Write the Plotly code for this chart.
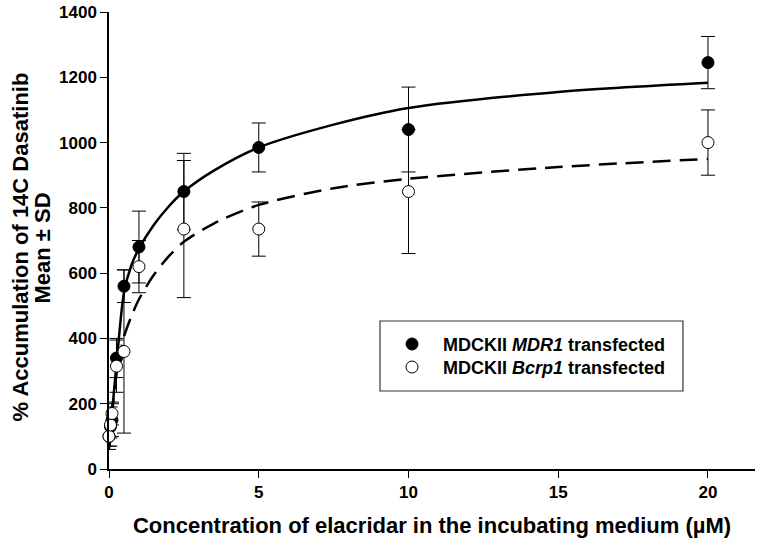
import plotly.graph_objects as go

# Measured data (mean ± SD)
conc = [0, 0.05, 0.1, 0.25, 0.5, 1, 2.5, 5, 10, 20]
mdr1_mean = [100, 130, 150, 340, 560, 680, 850, 985, 1040, 1245]
mdr1_sd = [40, 60, 50, 60, 50, 110, 117, 75, 130, 80]
bcrp1_mean = [100, 135, 170, 315, 360, 620, 735, 735, 850, 1000]
bcrp1_sd = [30, 40, 35, 80, 250, 80, 210, 83, 190, 100]

# Fitted curves
fit_x = [0, 0.1, 0.25, 0.5, 0.75, 1, 1.5, 2, 2.5, 3.5, 5, 7.5, 10, 15, 20]
mdr1_fit = [60, 170, 320, 540, 625, 675, 748, 805, 850, 914, 985, 1055, 1106, 1155, 1183]
bcrp1_fit = [80, 170, 290, 405, 468, 520, 595, 652, 696, 752, 809, 860, 889, 925, 950]

x_ticks = [0, 5, 10, 15, 20]
y_ticks = [0, 200, 400, 600, 800, 1000, 1200, 1400]

FONT = "Arial, Liberation Sans, sans-serif"

fig = go.Figure()

fig.add_trace(go.Scatter(
    x=fit_x, y=mdr1_fit, mode="lines", line=dict(color="black", width=2.5, shape="spline", smoothing=0.8),
    showlegend=False, hoverinfo="skip"))
fig.add_trace(go.Scatter(
    x=fit_x, y=bcrp1_fit, mode="lines",
    line=dict(color="black", width=2.5, shape="spline", smoothing=0.8, dash="18px,9px"),
    showlegend=False, hoverinfo="skip"))

fig.add_trace(go.Scatter(
    x=conc, y=mdr1_mean, mode="markers", name="MDCKII <i>MDR1</i> transfected",
    legend="legend",
    marker=dict(symbol="circle", size=12, color="black", line=dict(color="black", width=1)),
    error_y=dict(type="data", array=mdr1_sd, visible=True, color="black", thickness=1, width=7),
    cliponaxis=False))
fig.add_trace(go.Scatter(
    x=conc, y=bcrp1_mean, mode="markers", name="MDCKII <i>Bcrp1</i> transfected",
    legend="legend2",
    marker=dict(symbol="circle", size=12, color="white", line=dict(color="black", width=1)),
    error_y=dict(type="data", array=bcrp1_sd, visible=True, color="black", thickness=1, width=7),
    cliponaxis=False))

# legend frame
fig.add_shape(type="rect", xref="paper", yref="paper",
              x0=0.4195, x1=0.8885, y0=0.1707, y1=0.3239,
              line=dict(color="#333333", width=1.2), fillcolor="rgba(0,0,0,0)")

# y-axis title (two lines placed individually)
ytitle_font = dict(family=FONT, size=22, color="black", weight="bold")
fig.add_annotation(text="% Accumulation of 14C Dasatinib", textangle=-90,
                   xref="paper", yref="paper", x=-0.1378, y=0.487,
                   xanchor="center", yanchor="middle", showarrow=False, font=ytitle_font)
fig.add_annotation(text="Mean ± SD", textangle=-90,
                   xref="paper", yref="paper", x=-0.1037, y=0.4825,
                   xanchor="center", yanchor="middle", showarrow=False, font=ytitle_font)

legend_common = dict(x=0.4211, xanchor="left", yanchor="middle",
                     bgcolor="rgba(0,0,0,0)", borderwidth=0,
                     font=dict(family=FONT, size=18, color="black", weight="bold"),
                     itemwidth=52)

fig.update_layout(
    width=771, height=551,
    margin=dict(l=109, r=16, t=12, b=82),
    paper_bgcolor="white", plot_bgcolor="white",
    font=dict(family=FONT, color="black", size=17),
    showlegend=True,
    legend=dict(y=0.2729, **legend_common),
    legend2=dict(y=0.2225, **legend_common),
    xaxis=dict(range=[0, 21.57], tickvals=x_ticks, ticktext=[str(v) for v in x_ticks],
               automargin=False,
               showgrid=False, zeroline=False, showline=True, linecolor="black", linewidth=1.5,
               ticks="outside", ticklen=7, tickwidth=1.2, tickcolor="black",
               tickfont=dict(family=FONT, size=17, weight="bold"),
               title=dict(text="Concentration of elacridar in the incubating medium (µM)",
                          font=dict(family=FONT, size=22, weight="bold"), standoff=16)),
    yaxis=dict(range=[0, 1400], tickvals=y_ticks, ticktext=[str(v) for v in y_ticks],
               automargin=False,
               showgrid=False, zeroline=False, showline=True, linecolor="black", linewidth=1.5,
               ticks="outside", ticklen=7, tickwidth=1.2, tickcolor="black",
               tickfont=dict(family=FONT, size=17, weight="bold")),
)

fig.write_html("out.html", config={"displayModeBar": False},
               post_script="document.body.style.margin='0px';document.body.style.overflow='hidden';")
